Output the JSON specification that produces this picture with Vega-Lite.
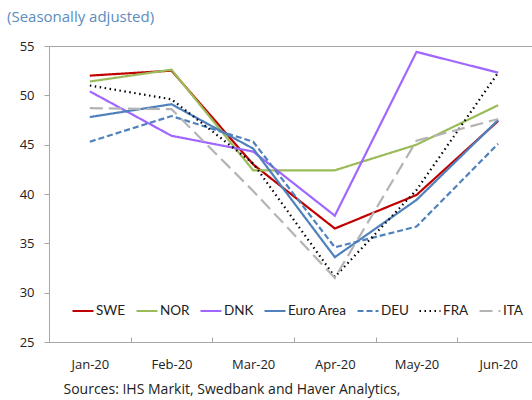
{
  "$schema": "https://vega.github.io/schema/vega-lite/v6.json",
  "autosize": "none",
  "padding": {"left": 49, "top": 46, "right": 0, "bottom": 58},
  "width": 490,
  "height": 296,
  "title": {
    "text": "(Seasonally adjusted)",
    "anchor": "start",
    "frame": "group",
    "dx": -42,
    "offset": 15,
    "fontSize": 15,
    "fontWeight": "normal",
    "color": "#5b8cc0",
    "font": "Open Sans"
  },
  "data": {
    "values": [
      {"month": "Jan-20", "country": "SWE", "value": 52.0},
      {"month": "Feb-20", "country": "SWE", "value": 52.5},
      {"month": "Mar-20", "country": "SWE", "value": 43.0},
      {"month": "Apr-20", "country": "SWE", "value": 36.5},
      {"month": "May-20", "country": "SWE", "value": 39.9},
      {"month": "Jun-20", "country": "SWE", "value": 47.4},
      {"month": "Jan-20", "country": "NOR", "value": 51.4},
      {"month": "Feb-20", "country": "NOR", "value": 52.6},
      {"month": "Mar-20", "country": "NOR", "value": 42.4},
      {"month": "Apr-20", "country": "NOR", "value": 42.4},
      {"month": "May-20", "country": "NOR", "value": 45.0},
      {"month": "Jun-20", "country": "NOR", "value": 49.0},
      {"month": "Jan-20", "country": "DNK", "value": 50.4},
      {"month": "Feb-20", "country": "DNK", "value": 45.9},
      {"month": "Mar-20", "country": "DNK", "value": 44.3},
      {"month": "Apr-20", "country": "DNK", "value": 37.8},
      {"month": "May-20", "country": "DNK", "value": 54.4},
      {"month": "Jun-20", "country": "DNK", "value": 52.3},
      {"month": "Jan-20", "country": "Euro Area", "value": 47.8},
      {"month": "Feb-20", "country": "Euro Area", "value": 49.1},
      {"month": "Mar-20", "country": "Euro Area", "value": 44.6},
      {"month": "Apr-20", "country": "Euro Area", "value": 33.6},
      {"month": "May-20", "country": "Euro Area", "value": 39.4},
      {"month": "Jun-20", "country": "Euro Area", "value": 47.5},
      {"month": "Jan-20", "country": "DEU", "value": 45.3},
      {"month": "Feb-20", "country": "DEU", "value": 47.9},
      {"month": "Mar-20", "country": "DEU", "value": 45.3},
      {"month": "Apr-20", "country": "DEU", "value": 34.6},
      {"month": "May-20", "country": "DEU", "value": 36.7},
      {"month": "Jun-20", "country": "DEU", "value": 45.1},
      {"month": "Jan-20", "country": "FRA", "value": 51.0},
      {"month": "Feb-20", "country": "FRA", "value": 49.6},
      {"month": "Mar-20", "country": "FRA", "value": 43.1},
      {"month": "Apr-20", "country": "FRA", "value": 31.6},
      {"month": "May-20", "country": "FRA", "value": 40.4},
      {"month": "Jun-20", "country": "FRA", "value": 52.3},
      {"month": "Jan-20", "country": "ITA", "value": 48.7},
      {"month": "Feb-20", "country": "ITA", "value": 48.6},
      {"month": "Mar-20", "country": "ITA", "value": 40.3},
      {"month": "Apr-20", "country": "ITA", "value": 31.5},
      {"month": "May-20", "country": "ITA", "value": 45.4},
      {"month": "Jun-20", "country": "ITA", "value": 47.6}
    ]
  },
  "mark": {"type": "line", "strokeWidth": 2.2},
  "encoding": {
    "x": {
      "field": "month",
      "type": "ordinal",
      "sort": null,
      "scale": {"type": "band", "paddingInner": 0, "paddingOuter": 0},
      "axis": {
        "title": "Sources: IHS Markit, Swedbank and Haver Analytics,",
        "titleAnchor": "start",
        "titleAlign": "left",
        "titleBaseline": "middle",
        "titleX": 14,
        "titleY": 47,
        "titleFontWeight": "normal",
        "titleFontSize": 14,
        "labelAngle": 0,
        "labelPadding": 21,
        "tickBand": "extent",
        "tickSize": -5
      }
    },
    "y": {
      "field": "value",
      "type": "quantitative",
      "scale": {"domain": [25, 55], "nice": false, "zero": false},
      "axis": {
        "title": null,
        "values": [25, 30, 35, 40, 45, 50, 55],
        "tickSize": 5,
        "labelPadding": 10,
        "grid": false
      }
    },
    "color": {
      "field": "country",
      "type": "nominal",
      "title": null,
      "scale": {
        "domain": ["SWE", "NOR", "DNK", "Euro Area", "DEU", "FRA", "ITA"],
        "range": ["#c00000", "#9bbb59", "#a066ff", "#4f81bd", "#4f81bd", "#000000", "#b4b4b4"]
      }
    },
    "strokeDash": {
      "field": "country",
      "type": "nominal",
      "title": null,
      "scale": {
        "domain": ["SWE", "NOR", "DNK", "Euro Area", "DEU", "FRA", "ITA"],
        "range": [[1, 0], [1, 0], [1, 0], [1, 0], [6, 3], [1.5, 3.5], [13, 6]]
      }
    }
  },
  "config": {
    "font": "Open Sans",
    "view": {"stroke": "#a6a6a6", "strokeWidth": 1},
    "axis": {
      "domainColor": "#a6a6a6",
      "tickColor": "#a6a6a6",
      "labelFontSize": 13,
      "labelColor": "#222222",
      "titleColor": "#222222",
      "labelFont": "Open Sans",
      "titleFont": "Open Sans"
    },
    "legend": {
      "orient": "none",
      "legendX": 22,
      "legendY": 253,
      "direction": "horizontal",
      "columns": 7,
      "gridAlign": "none",
      "columnPadding": 6,
      "symbolType": "stroke",
      "symbolSize": 440,
      "symbolStrokeWidth": 2.2,
      "labelFontSize": 13.5,
      "labelOffset": 1,
      "labelColor": "#222222",
      "labelFont": "Lato"
    }
  }
}
